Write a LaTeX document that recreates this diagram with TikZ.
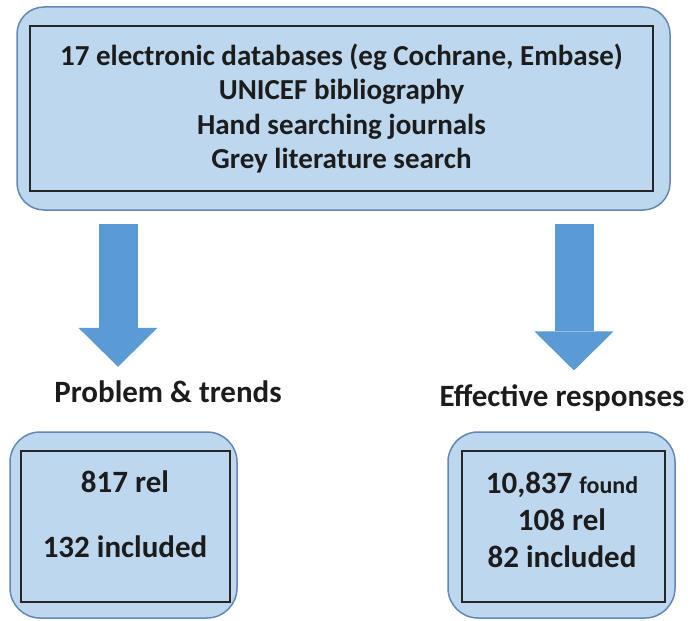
\documentclass[tikz,border=0pt]{standalone}
\usepackage{fontspec}
\setmainfont{Carlito}
\usepackage{xcolor}
\usetikzlibrary{arrows.meta, calc, positioning}
\definecolor{boxfill}{HTML}{BDD7EE}
\definecolor{boxline}{HTML}{6288B8}
\definecolor{arrowfill}{HTML}{5B9BD5}
\definecolor{txtcol}{HTML}{1C1C1C}

\begin{document}
\begin{tikzpicture}[
 x=1pt, y=-1pt,
 outerbox/.style={draw=boxline, line width=1.5pt, fill=boxfill, rounded corners=27pt},
 innerbox/.style={draw=black!85, line width=2.5pt},
 txt/.style={font=\bfseries\fontsize{31}{37}\selectfont, text=txtcol, align=center, inner sep=0pt},
 toptxt/.style={txt, font=\bfseries\fontsize{29}{34.5}\selectfont},
 bigarrow/.style={draw=arrowfill, line width=39pt, -{Triangle[width=79pt, length=39pt, line width=0pt]}},
 ]
 \useasboundingbox (0,0) rectangle (692,620);

 \node[outerbox, minimum width=653pt, minimum height=203pt] (sources) at (343.5,108.5) {};
 \node[innerbox, toptxt, minimum width=623pt, minimum height=165pt] (searches) at (341.5,108.5)
 {17 electronic databases (eg Cochrane, Embase)\\UNICEF bibliography\\Hand searching journals\\Grey literature search};

 \node[txt] (problems) at (168,392) {Problem \& trends};
 \node[txt] (responses) at (562,398) {Effective responses};

 \node[outerbox, rounded corners=30pt, minimum width=227pt, minimum height=186pt] (probouter) at (123.5,525) {};
 \node[innerbox, minimum width=209pt, minimum height=151pt] (probinner) at (125.5,526.5) {};
 \node[txt] (probcount) at (125,514.5) {817 rel\\[28pt]132 included};

 \node[outerbox, rounded corners=30pt, minimum width=227pt, minimum height=186pt] (respouter) at (561.5,525) {};
 \node[innerbox, minimum width=203pt, minimum height=151pt] (respinner) at (563.5,526.5) {};
 \node[txt] (respcount) at (562,520)
 {10,837 {\fontsize{24}{37}\selectfont found}\\108 rel\\82 included};

 \draw[bigarrow] ($(sources.south -| problems)+(-50,13)$) -- ($(problems.north)+(-50,-14)$);
 \draw[bigarrow] ($(sources.south -| responses)+(12,13)$) -- ($(responses.north)+(12,-14)$);

\end{tikzpicture}
\end{document}
